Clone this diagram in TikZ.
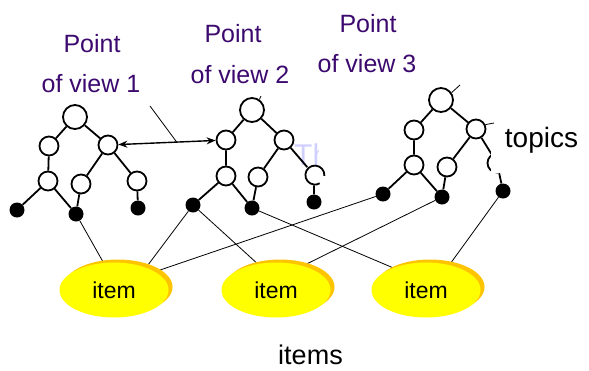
\documentclass[tikz,border=0pt]{standalone}
\usepackage{fontspec}
\setmainfont{Liberation Sans}
\usetikzlibrary{arrows.meta,shadows,shapes.geometric}
\definecolor{pv}{RGB}{60,10,110}
\definecolor{itemyellow}{RGB}{255,255,0}
\definecolor{itemshadow}{RGB}{255,196,0}
\definecolor{faintblue}{RGB}{208,208,255}
\pgfdeclarelayer{background}
\pgfsetlayers{background,main}
\tikzset{
  tedge/.style={line width=1.8pt},
  tnode/.style={circle,draw,line width=1.8pt,fill=white,minimum size=19pt,inner sep=0pt},
  troot/.style={tnode,minimum size=24pt},
  tleaf/.style={circle,fill=black,minimum size=15pt,inner sep=0pt},
  link/.style={line width=0.8pt},
  pvtext/.style={font=\fontsize{25}{30}\selectfont,text=pv,anchor=base,inner sep=0pt},
  itemnode/.style={ellipse,fill=itemyellow,minimum width=109pt,minimum height=55pt,inner sep=0pt,
    font=\fontsize{23}{28}\selectfont,
    drop shadow={shadow xshift=4pt,shadow yshift=3pt,fill=itemshadow,opacity=1}},
  bigtext/.style={anchor=base,inner sep=0pt},
  arr/.style={{Stealth[length=9pt,width=7pt]}-{Stealth[length=9pt,width=7pt]},line width=1.4pt}
}
\begin{document}
\begin{tikzpicture}[x=1pt,y=-1pt]
\useasboundingbox (0,0) rectangle (589,370);
% tree 1
\node[troot] (a0) at (75,117) {};
\node[tnode] (a1) at (49,146) {};
\node[tnode] (a2) at (108,145) {};
\node[tnode] (a3) at (48,181) {};
\node[tnode] (a4) at (81,184) {};
\node[tnode] (a5) at (137,181) {};
\node[tleaf] (a6) at (17,210) {};
\node[tleaf] (a7) at (76,214) {};
\node[tleaf] (a8) at (138,208) {};
% tree 2
\node[troot] (b0) at (252,110) {};
\node[tnode] (b1) at (226,140) {};
\node[tnode] (b2) at (284,140) {};
\node[tnode] (b3) at (226,176) {};
\node[tnode] (b4) at (258,177) {};
\node[tnode,draw=none,fill=none] (b5) at (314,175) {};
\node[tleaf] (b6) at (193,205) {};
\node[tleaf] (b7) at (252,208) {};
\node[tleaf] (b8) at (314,202) {};
% tree 3
\node[troot] (c0) at (441,100) {};
\node[tnode] (c1) at (414,130) {};
\node[tnode] (c2) at (476,129) {};
\node[tnode] (c3) at (414,165) {};
\node[tnode] (c4) at (447,167) {};
\node[tnode] (c5) at (497,163) {};
\node[tleaf] (c6) at (383,194) {};
\node[tleaf] (c7) at (442,197) {};
\node[tleaf] (c8) at (503,191) {};
% items
\node[itemnode] (item1) at (114,290) {item};
\node[itemnode] (item2) at (276,290) {item};
\node[itemnode] (item3) at (426,290) {item};
\begin{pgfonlayer}{background}
  \begin{scope}
    \clip (290,130) rectangle (318,172);
    \node[bigtext,anchor=base west,font=\fontsize{30}{34}\selectfont,text=faintblue] (th) at (294,165) {Th};
  \end{scope}
  \draw[tedge] (a0)--(a1) (a0)--(a2) (a1)--(a3) (a2)--(a4) (a2)--(a5)
               (a3)--(a6) (a3)--(a7) (a4)--(a7) (a5)--(a8);
  \draw[tedge] (b0)--(b1) (b0)--(b2) (b1)--(b3) (b2)--(b4) (b2)--(b5)
               (b3)--(b6) (b3)--(b7) (b4)--(b7) (b5)--(b8);
  \draw[tedge] (c0)--(c1) (c0)--(c2) (c1)--(c3) (c2)--(c4) (c2)--(c5)
               (c3)--(c6) (c3)--(c7) (c4)--(c7) (c5)--(c8);
  \draw[link] (a7) -- (item1.111);
  \draw[link] (b6) -- (item1.35);
  \draw[link] (c6) -- (item1.24);
  \draw[link] (b6) -- (item2.125);
  \draw[link] (c7) -- (item2.42);
  \draw[link] (b7) -- (item3.146);
  \draw[link] (c8) -- (item3.47);
\end{pgfonlayer}
% partial circle in tree 2
\draw[line width=1.8pt] (b5.-5) arc[start angle=-5,end angle=300,radius=9.5pt];
% arrow between points of view
\draw[arr] (a2) -- coordinate[pos=0.6] (am) (b1);
\coordinate (k1) at (150,106);
\draw[link] (k1) -- (am);
% small ticks
\coordinate (k2) at (261,96);
\draw[link] (b0.55) -- (k2);
\coordinate (k3) at (460,85);
\draw[link] (c0.35) -- (k3);
\coordinate (k4) at (494,123);
\draw[link] (c2.25) -- (k4);
% white area behind topics
\fill[white] (491,126) rectangle (589,173);
\node[bigtext,font=\fontsize{28}{32}\selectfont] (topics) at (541.5,147) {topics};
% labels
\node[pvtext] (p1a) at (92,52) {Point};
\node[pvtext] (p1b) at (91,92) {of view 1};
\node[pvtext] (p2a) at (233,42) {Point};
\node[pvtext] (p2b) at (240,83) {of view 2};
\node[pvtext] (p3a) at (368,32) {Point};
\node[pvtext] (p3b) at (367,72) {of view 3};
\node[bigtext,font=\fontsize{27}{32}\selectfont] (items) at (310.5,364) {items};
\end{tikzpicture}
\end{document}
